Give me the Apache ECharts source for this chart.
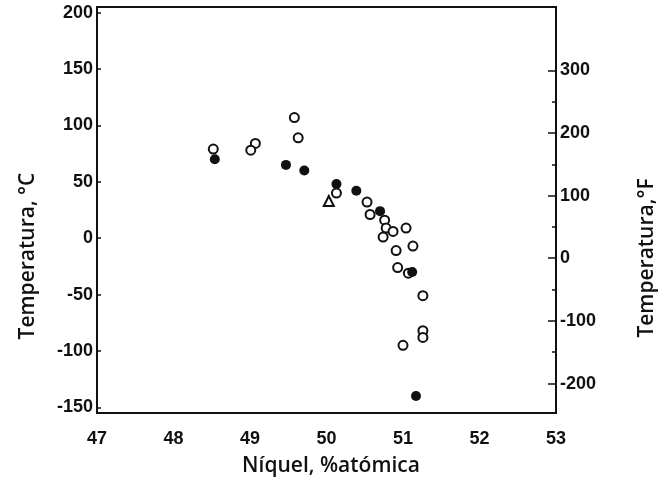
<!DOCTYPE html>
<html>
<head>
<meta charset="utf-8">
<script src="https://cdn.jsdelivr.net/npm/echarts@6/dist/echarts.min.js"></script>
<style>
html,body{margin:0;padding:0;background:#fff;}
#chart{width:660px;height:479px;}
</style>
</head>
<body>
<div id="chart"></div>
<script>
// Níquel (% atómica) vs temperatura (°C)
const openNi   = [48.52, 49.07, 49.01, 49.58, 49.63, 50.13, 50.53, 50.57, 50.76, 50.78, 50.74, 50.87, 51.04, 51.13, 50.91, 50.93, 51.26, 51.26, 51.26, 51.00, 51.07];
const openTemp = [79, 84, 78, 107, 89, 40, 32, 21, 16, 9, 1, 6, 9, -7, -11, -26, -51, -82, -88, -95, -31];
const filledNi   = [48.54, 49.47, 49.71, 50.13, 50.39, 50.70, 51.12, 51.17];
const filledTemp = [70, 65, 60, 48, 42, 24, -30, -140];
const triNi   = [50.03];
const triTemp = [33];

const niTicks = [47, 48, 49, 50, 51, 52, 53];
const tempCTicks = [-150, -100, -50, 0, 50, 100, 150, 200];
const tempFTicks = [-200, -100, 0, 100, 200, 300];
const tempFMinorTicks = [-150, -50, 50, 150, 250];

const cMin = -155, cMax = 205;
const fMin = cMin * 9 / 5 + 32, fMax = cMax * 9 / 5 + 32;

const zip = (a, b) => a.map((v, i) => [v, b[i]]);

const labelFont = {color: '#111', fontFamily: 'Liberation Sans', fontSize: 18, fontWeight: 'bold'};
const nameFont = {fill: '#111', fontFamily: 'Open Sans', fontSize: 21, fontWeight: 600};

const chart = echarts.init(document.getElementById('chart'));
chart.setOption({
  animation: false,
  backgroundColor: '#fff',
  grid: {left: 97, right: 104, top: 7, bottom: 66, show: true, borderColor: '#111', borderWidth: 2},
  xAxis: {
    type: 'value', min: 47, max: 53, interval: 1,
    axisLine: {show: true, onZero: false, lineStyle: {color: '#111', width: 2}},
    axisTick: {show: false},
    splitLine: {show: false},
    axisLabel: Object.assign({margin: 17, customValues: niTicks}, labelFont)
  },
  yAxis: [
    {
      type: 'value', min: cMin, max: cMax, position: 'left',
      axisLine: {show: true, onZero: false, lineStyle: {color: '#111', width: 2}},
      axisTick: {show: true, inside: true, length: 4, customValues: tempCTicks, lineStyle: {color: '#111', width: 1.5}},
      splitLine: {show: false},
      axisLabel: Object.assign({margin: 4, customValues: tempCTicks}, labelFont)
    },
    {
      type: 'value', min: fMin, max: fMax, position: 'right',
      axisLine: {show: true, onZero: false, lineStyle: {color: '#111', width: 2}},
      axisTick: {show: true, inside: true, length: 8, customValues: tempFTicks, lineStyle: {color: '#111', width: 1.5}},
      splitLine: {show: false},
      axisLabel: Object.assign({margin: 4, customValues: tempFTicks}, labelFont)
    },
    {
      type: 'value', min: fMin, max: fMax, position: 'right',
      axisLine: {show: false},
      axisTick: {show: true, inside: true, length: 4, customValues: tempFMinorTicks, lineStyle: {color: '#111', width: 1.5}},
      splitLine: {show: false},
      axisLabel: {show: false}
    }
  ],
  graphic: [
    {type: 'text', x: 28, y: 256, rotation: Math.PI / 2,
     style: Object.assign({text: 'Temperatura, °C', align: 'center', verticalAlign: 'middle'}, nameFont)},
    {type: 'text', x: 647, y: 258, rotation: Math.PI / 2,
     style: Object.assign({text: 'Temperatura,°F', align: 'center', verticalAlign: 'middle'}, nameFont)},
    {type: 'text', x: 331, y: 466,
     style: Object.assign({text: 'Níquel, %atómica', align: 'center', verticalAlign: 'middle'}, nameFont)}
  ],
  series: [
    {type: 'scatter', name: 'abierto', data: zip(openNi, openTemp), symbol: 'circle', symbolSize: 9,
     itemStyle: {color: '#fff', borderColor: '#111', borderWidth: 2, opacity: 1}},
    {type: 'scatter', name: 'lleno', data: zip(filledNi, filledTemp), symbol: 'circle', symbolSize: 10,
     itemStyle: {color: '#111', opacity: 1}},
    {type: 'scatter', name: 'triángulo', data: zip(triNi, triTemp), symbol: 'triangle', symbolSize: 10,
     itemStyle: {color: '#fff', borderColor: '#111', borderWidth: 2, opacity: 1}}
  ]
});
</script>
</body>
</html>
